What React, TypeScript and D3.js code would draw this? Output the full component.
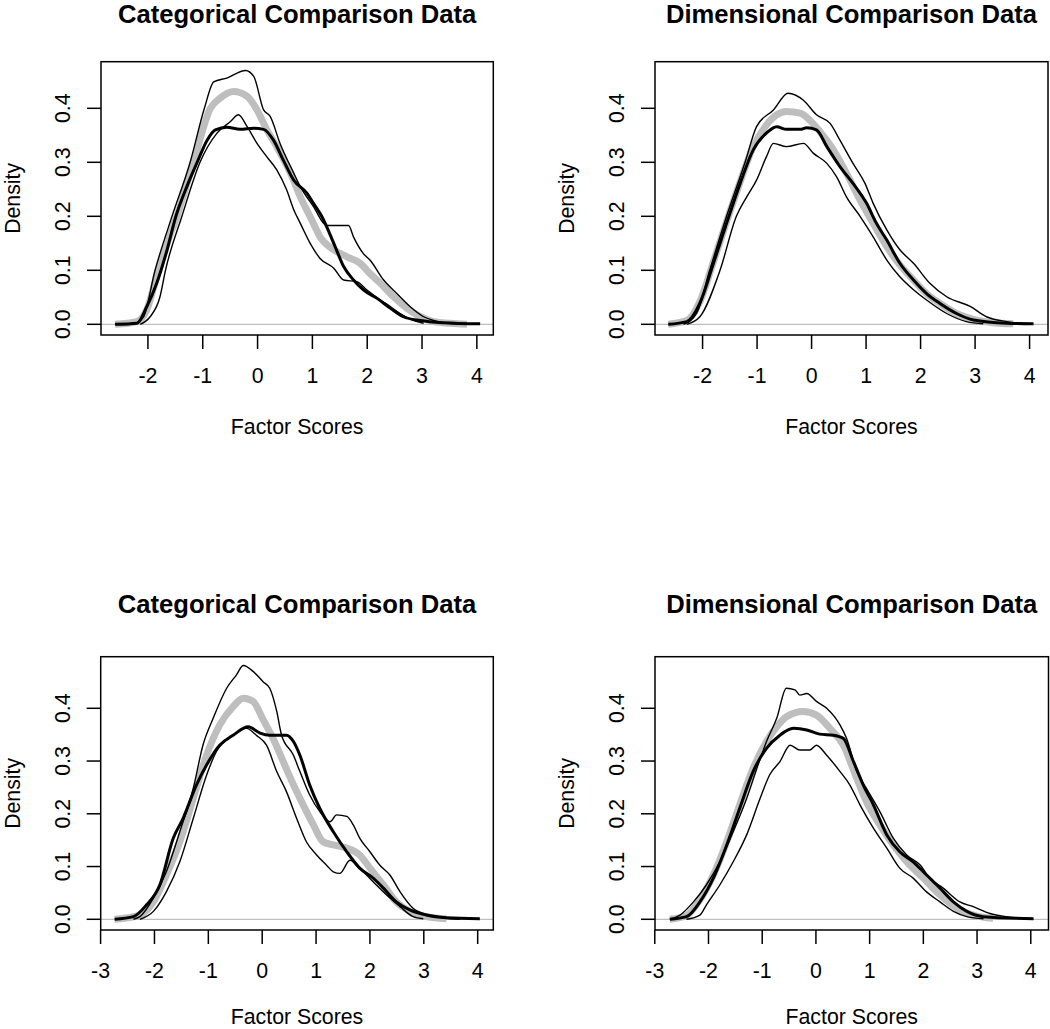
import React from 'react';
import * as d3 from 'd3';

type P = [number, number];

const titles = [
  'Categorical Comparison Data',
  'Dimensional Comparison Data',
  'Categorical Comparison Data',
  'Dimensional Comparison Data',
];
const xLabel = 'Factor Scores';
const yLabel = 'Density';
const yTicks = [0, 0.1, 0.2, 0.3, 0.4];
const xTicksTop = [-2, -1, 0, 1, 2, 3, 4];
const xTicksBottom = [-3, -2, -1, 0, 1, 2, 3, 4];

// ---------- Panel 1: Categorical (top) ----------
const p1Observed: P[] = [
  [-2.6, 0], [-2.2, 0.002], [-2.02, 0.033], [-1.84, 0.076], [-1.65, 0.138], [-1.49, 0.2],
  [-1.29, 0.255], [-1.11, 0.298], [-0.92, 0.341], [-0.77, 0.36], [-0.56, 0.365], [-0.32, 0.361],
  [-0.07, 0.363], [0.11, 0.361], [0.29, 0.341], [0.47, 0.304], [0.66, 0.267], [0.9, 0.243],
  [1.02, 0.224], [1.17, 0.2], [1.39, 0.15], [1.57, 0.107], [1.75, 0.082], [1.93, 0.064],
  [2.18, 0.048], [2.42, 0.03], [2.66, 0.014], [2.97, 0.007], [3.39, 0.003], [4.06, 0.001],
];
const p1Gray: P[] = [
  [-2.6, 0], [-2.2, 0.005], [-2.02, 0.027], [-1.81, 0.1], [-1.65, 0.15], [-1.47, 0.2],
  [-1.17, 0.3], [-0.86, 0.4], [-0.68, 0.419], [-0.44, 0.431], [-0.19, 0.422], [-0.01, 0.397],
  [0.17, 0.36], [0.35, 0.329], [0.6, 0.28], [0.78, 0.236], [0.99, 0.193], [1.14, 0.162],
  [1.39, 0.138], [1.63, 0.125], [1.87, 0.113], [2.05, 0.094], [2.24, 0.076], [2.48, 0.051],
  [2.72, 0.03], [2.97, 0.014], [3.21, 0.005], [3.51, 0.002], [3.82, 0],
];
const p1Upper: P[] = [
  [-2.26, 0], [-2.08, 0.014], [-1.87, 0.1], [-1.56, 0.2], [-1.23, 0.3], [-0.97, 0.4],
  [-0.8, 0.449], [-0.56, 0.456], [-0.22, 0.47], [-0.07, 0.459], [0.11, 0.397], [0.23, 0.385],
  [0.41, 0.335], [0.66, 0.28], [0.78, 0.255], [1.02, 0.218], [1.26, 0.183], [1.66, 0.183],
  [1.75, 0.162], [1.93, 0.131], [2.05, 0.119], [2.3, 0.082], [2.54, 0.057], [2.78, 0.033],
  [3.03, 0.014], [3.21, 0.007], [3.45, 0.002], [3.7, 0],
];
const p1Lower: P[] = [
  [-2.14, 0], [-1.96, 0.014], [-1.78, 0.051], [-1.68, 0.1], [-1.38, 0.2], [-1.05, 0.3],
  [-0.74, 0.354], [-0.5, 0.375], [-0.35, 0.388], [-0.19, 0.366], [-0.01, 0.335], [0.17, 0.31],
  [0.35, 0.286], [0.53, 0.249], [0.66, 0.212], [0.78, 0.187], [0.96, 0.15], [1.14, 0.122],
  [1.39, 0.104], [1.57, 0.082], [1.81, 0.079], [1.99, 0.064], [2.24, 0.045], [2.42, 0.033],
  [2.6, 0.02], [2.85, 0.007], [3.03, 0.002],
];

// ---------- Panel 2: Dimensional (top) ----------
const p2Observed: P[] = [
  [-2.63, 0], [-2.29, 0.005], [-2.05, 0.039], [-1.8, 0.113], [-1.56, 0.187], [-1.31, 0.261],
  [-1.07, 0.323], [-0.83, 0.354], [-0.64, 0.366], [-0.46, 0.361], [-0.21, 0.361], [-0.09, 0.364],
  [0.09, 0.36], [0.28, 0.329], [0.52, 0.292], [0.76, 0.261], [1.01, 0.224], [1.19, 0.187],
  [1.38, 0.156], [1.62, 0.113], [1.87, 0.082], [2.11, 0.057], [2.35, 0.039], [2.66, 0.02],
  [2.97, 0.008], [3.58, 0.002], [4.07, 0.001],
];
const p2Gray: P[] = [
  [-2.63, 0], [-2.29, 0.007], [-2.05, 0.042], [-1.8, 0.116], [-1.56, 0.19], [-1.31, 0.264],
  [-1.07, 0.329], [-0.83, 0.369], [-0.64, 0.388], [-0.46, 0.394], [-0.21, 0.391], [-0.03, 0.378],
  [0.15, 0.357], [0.4, 0.323], [0.64, 0.28], [0.89, 0.23], [1.13, 0.187], [1.38, 0.144],
  [1.62, 0.11], [1.87, 0.082], [2.11, 0.057], [2.35, 0.039], [2.66, 0.02], [2.97, 0.009],
  [3.33, 0.003], [3.7, 0.001],
];
const p2Upper: P[] = [
  [-2.35, 0], [-2.11, 0.02], [-1.87, 0.1], [-1.56, 0.2], [-1.22, 0.3], [-1.01, 0.366],
  [-0.7, 0.397], [-0.43, 0.428], [-0.15, 0.415], [0.09, 0.388], [0.34, 0.372], [0.52, 0.341],
  [0.76, 0.298], [0.98, 0.261], [1.13, 0.224], [1.38, 0.175], [1.62, 0.138], [1.87, 0.113],
  [2.17, 0.076], [2.48, 0.051], [2.91, 0.033], [3.21, 0.014], [3.58, 0.005], [4.07, 0.001],
];
const p2Lower: P[] = [
  [-2.29, 0], [-2.05, 0.014], [-1.68, 0.1], [-1.38, 0.2], [-1.19, 0.236], [-1.01, 0.267],
  [-0.83, 0.31], [-0.7, 0.335], [-0.46, 0.329], [-0.15, 0.335], [0.03, 0.317], [0.28, 0.298],
  [0.46, 0.273], [0.64, 0.236], [0.89, 0.2], [1.13, 0.162], [1.38, 0.119], [1.62, 0.088],
  [1.87, 0.064], [2.11, 0.045], [2.48, 0.02], [2.84, 0.005], [3.15, 0.001],
];

// ---------- Panel 3: Categorical (bottom) ----------
const p3Observed: P[] = [
  [-2.74, 0], [-2.39, 0.005], [-2.15, 0.027], [-1.9, 0.065], [-1.65, 0.154], [-1.47, 0.191],
  [-1.22, 0.255], [-1.03, 0.293], [-0.79, 0.33], [-0.54, 0.349], [-0.26, 0.365], [-0.04, 0.353],
  [0.14, 0.349], [0.45, 0.349], [0.58, 0.337], [0.7, 0.311], [0.88, 0.255], [1.07, 0.21],
  [1.32, 0.166], [1.57, 0.128], [1.81, 0.097], [2.06, 0.078], [2.25, 0.059], [2.49, 0.033],
  [2.74, 0.018], [3.05, 0.008], [3.42, 0.003], [4.04, 0.001],
];
const p3Gray: P[] = [
  [-2.74, 0], [-2.27, 0.008], [-2.02, 0.033], [-1.78, 0.084], [-1.53, 0.147], [-1.28, 0.229],
  [-1.03, 0.312], [-0.79, 0.368], [-0.54, 0.403], [-0.35, 0.419], [-0.17, 0.413], [0.02, 0.378],
  [0.2, 0.343], [0.39, 0.299], [0.58, 0.255], [0.76, 0.217], [0.95, 0.179], [1.13, 0.147],
  [1.32, 0.141], [1.57, 0.135], [1.81, 0.122], [2.0, 0.097], [2.25, 0.065], [2.49, 0.033],
  [2.74, 0.015], [3.05, 0.005], [3.42, 0.001],
];
const p3Upper: P[] = [
  [-2.39, 0], [-2.27, 0.005], [-2.02, 0.04], [-1.78, 0.09], [-1.53, 0.166], [-1.28, 0.248],
  [-1.1, 0.33], [-0.91, 0.381], [-0.66, 0.438], [-0.48, 0.463], [-0.35, 0.481], [-0.17, 0.47],
  [0.02, 0.45], [0.14, 0.438], [0.27, 0.394], [0.36, 0.349], [0.58, 0.311], [0.7, 0.28],
  [0.88, 0.236], [1.07, 0.204], [1.26, 0.185], [1.38, 0.198], [1.57, 0.195], [1.69, 0.179],
  [1.81, 0.154], [2.0, 0.128], [2.18, 0.103], [2.37, 0.084], [2.56, 0.052], [2.8, 0.021],
  [3.05, 0.009], [3.42, 0.002], [3.67, 0],
];
const p3Lower: P[] = [
  [-2.27, 0], [-2.02, 0.015], [-1.78, 0.052], [-1.53, 0.109], [-1.28, 0.191], [-1.03, 0.274],
  [-0.85, 0.318], [-0.54, 0.349], [-0.29, 0.362], [-0.11, 0.349], [0.08, 0.33], [0.27, 0.28],
  [0.45, 0.242], [0.64, 0.191], [0.82, 0.147], [1.01, 0.122], [1.19, 0.103], [1.32, 0.09],
  [1.44, 0.087], [1.63, 0.112], [1.81, 0.097], [2.06, 0.071], [2.31, 0.046], [2.56, 0.024],
  [2.8, 0.005], [2.99, 0.001],
];

// ---------- Panel 4: Dimensional (bottom) ----------
const p4Observed: P[] = [
  [-2.72, 0], [-2.41, 0.005], [-2.16, 0.033], [-1.91, 0.078], [-1.66, 0.141], [-1.42, 0.21],
  [-1.17, 0.28], [-0.92, 0.324], [-0.67, 0.349], [-0.42, 0.362], [-0.17, 0.359], [0.07, 0.351],
  [0.32, 0.349], [0.51, 0.343], [0.7, 0.299], [0.88, 0.255], [1.07, 0.217], [1.32, 0.16],
  [1.56, 0.128], [1.81, 0.109], [2.06, 0.084], [2.31, 0.059], [2.56, 0.033], [2.81, 0.015],
  [3.12, 0.005], [4.05, 0.001],
];
const p4Gray: P[] = [
  [-2.72, 0], [-2.41, 0.007], [-2.16, 0.037], [-1.91, 0.084], [-1.66, 0.147], [-1.42, 0.217],
  [-1.17, 0.286], [-0.92, 0.337], [-0.73, 0.365], [-0.55, 0.384], [-0.24, 0.394], [0.01, 0.387],
  [0.26, 0.362], [0.51, 0.33], [0.76, 0.267], [0.94, 0.223], [1.19, 0.179], [1.44, 0.141],
  [1.69, 0.109], [2.0, 0.078], [2.31, 0.046], [2.62, 0.021], [2.93, 0.008], [3.3, 0.002],
];
const p4Upper: P[] = [
  [-2.72, 0], [-2.53, 0.008], [-2.28, 0.033], [-2.04, 0.065], [-1.79, 0.109], [-1.54, 0.166],
  [-1.29, 0.229], [-1.1, 0.286], [-0.92, 0.337], [-0.73, 0.381], [-0.55, 0.438], [-0.39, 0.435],
  [-0.3, 0.425], [-0.17, 0.428], [0.01, 0.413], [0.2, 0.4], [0.45, 0.368], [0.57, 0.343],
  [0.76, 0.28], [0.94, 0.248], [1.19, 0.204], [1.44, 0.154], [1.69, 0.122], [1.94, 0.103],
  [2.12, 0.078], [2.37, 0.059], [2.68, 0.033], [2.93, 0.024], [3.24, 0.011], [3.55, 0.005],
  [4.05, 0.001],
];
const p4Lower: P[] = [
  [-2.41, 0], [-2.16, 0.008], [-2.04, 0.027], [-1.79, 0.065], [-1.54, 0.109], [-1.29, 0.16],
  [-1.04, 0.229], [-0.86, 0.274], [-0.67, 0.299], [-0.48, 0.33], [-0.3, 0.321], [-0.11, 0.321],
  [0.01, 0.33], [0.2, 0.311], [0.45, 0.28], [0.63, 0.255], [0.82, 0.217], [1.07, 0.173],
  [1.32, 0.135], [1.56, 0.097], [1.81, 0.078], [2.06, 0.052], [2.31, 0.033], [2.56, 0.015],
  [2.81, 0.005], [3.12, 0.001],
];

const seriesByPanel = [
  { gray: p1Gray, upper: p1Upper, lower: p1Lower, observed: p1Observed, xTicks: xTicksTop },
  { gray: p2Gray, upper: p2Upper, lower: p2Lower, observed: p2Observed, xTicks: xTicksTop },
  { gray: p3Gray, upper: p3Upper, lower: p3Lower, observed: p3Observed, xTicks: xTicksBottom },
  { gray: p4Gray, upper: p4Upper, lower: p4Lower, observed: p4Observed, xTicks: xTicksBottom },
];

// layout (pixels) per panel
const layouts = [
  { left: 101, right: 493.3, top: 61.7, bottom: 335, xDom: [-2.856, 4.3], yDom: [-0.0198, 0.4863], titleY: 23, xlabY: 434 },
  { left: 655, right: 1048, top: 61.7, bottom: 335, xDom: [-2.873, 4.338], yDom: [-0.0198, 0.4863], titleY: 23, xlabY: 434 },
  { left: 100.7, right: 493.3, top: 656.7, bottom: 930, xDom: [-2.998, 4.29], yDom: [-0.0203, 0.4978], titleY: 613, xlabY: 1024 },
  { left: 655, right: 1048.5, top: 656.7, bottom: 930, xDom: [-2.996, 4.33], yDom: [-0.0203, 0.4978], titleY: 613, xlabY: 1024 },
];

const FONT = '"Liberation Sans", Arial, Helvetica, sans-serif';
const GRAY = '#bebebe';

function Panel({ idx }: { idx: number }) {
  const L = layouts[idx];
  const S = seriesByPanel[idx];
  const x = d3.scaleLinear().domain(L.xDom).range([L.left, L.right]);
  const y = d3.scaleLinear().domain(L.yDom).range([L.bottom, L.top]);
  const line = d3
    .line<P>()
    .x((d) => x(d[0]))
    .y((d) => y(d[1]))
    .curve(d3.curveMonotoneX);
  const cx = (L.left + L.right) / 2;
  const cy = (L.top + L.bottom) / 2;
  const tick = 14;
  return (
    <g>
      <text x={cx} y={L.titleY} textAnchor="middle" fontFamily={FONT} fontWeight="bold" fontSize={25.6} fill="#000">
        {titles[idx]}
      </text>
      <line x1={L.left} x2={L.right} y1={y(0)} y2={y(0)} stroke={GRAY} strokeWidth={1.2} />
      <path d={line(S.gray) || ''} fill="none" stroke={GRAY} strokeWidth={7} strokeLinejoin="round" />
      <path d={line(S.upper) || ''} fill="none" stroke="#000" strokeWidth={1.4} strokeLinejoin="round" />
      <path d={line(S.lower) || ''} fill="none" stroke="#000" strokeWidth={1.4} strokeLinejoin="round" />
      <path d={line(S.observed) || ''} fill="none" stroke="#000" strokeWidth={3} strokeLinejoin="round" />
      <rect x={L.left} y={L.top} width={L.right - L.left} height={L.bottom - L.top} fill="none" stroke="#000" strokeWidth={1.5} />
      {S.xTicks.map((t) => (
        <g key={'x' + t}>
          <line x1={x(t)} x2={x(t)} y1={L.bottom} y2={L.bottom + tick} stroke="#000" strokeWidth={1.5} />
          <text x={x(t)} y={L.bottom + 48} textAnchor="middle" fontFamily={FONT} fontSize={21.3} fill="#000">
            {String(t)}
          </text>
        </g>
      ))}
      {yTicks.map((t) => (
        <g key={'y' + t}>
          <line x1={L.left - tick} x2={L.left} y1={y(t)} y2={y(t)} stroke="#000" strokeWidth={1.5} />
          <text
            transform={`translate(${L.left - 31},${y(t)}) rotate(-90)`}
            textAnchor="middle"
            fontFamily={FONT}
            fontSize={21.3}
            fill="#000"
          >
            {t.toFixed(1)}
          </text>
        </g>
      ))}
      <text x={cx} y={L.xlabY} textAnchor="middle" fontFamily={FONT} fontSize={21.3} fill="#000">
        {xLabel}
      </text>
      <text
        transform={`translate(${L.left - 81},${cy}) rotate(-90)`}
        textAnchor="middle"
        fontFamily={FONT}
        fontSize={21.3}
        fill="#000"
      >
        {yLabel}
      </text>
    </g>
  );
}

export default function App() {
  return (
    <svg
      width={1050}
      height={1029}
      style={{ position: 'absolute', left: 0, top: 0, background: '#fff', display: 'block' }}
    >
      <rect x={0} y={0} width={1050} height={1029} fill="#fff" />
      {[0, 1, 2, 3].map((i) => (
        <Panel key={i} idx={i} />
      ))}
    </svg>
  );
}
